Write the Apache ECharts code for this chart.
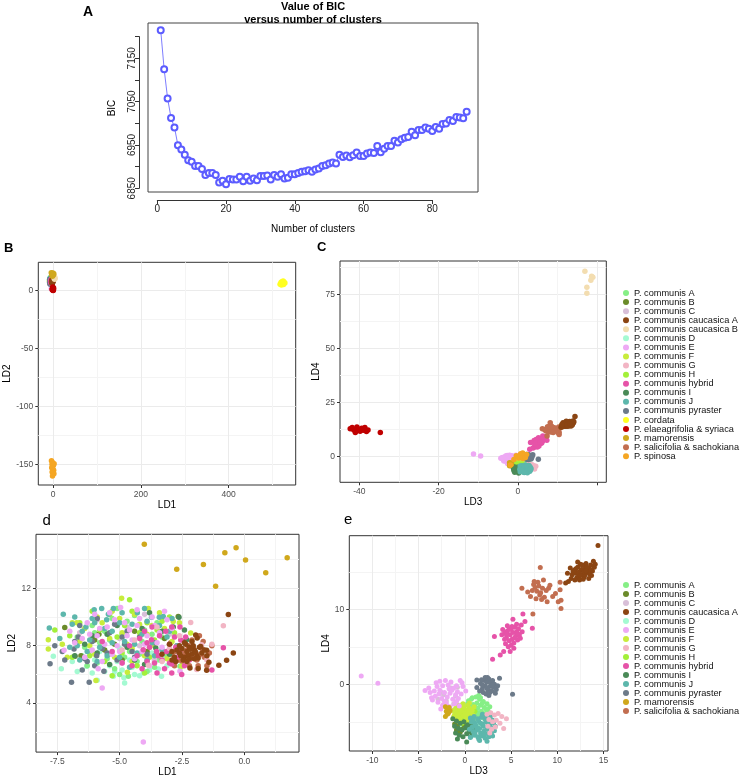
<!DOCTYPE html>
<html><head><meta charset="utf-8">
<script src="https://cdn.jsdelivr.net/npm/echarts@6/dist/echarts.min.js"></script>
<style>html,body{margin:0;padding:0;background:#fff}#c{width:744px;height:778px}</style>
</head><body><div id="c"></div><script>
// ---------- Panel A: BIC vs number of clusters (clusters 1..90) ----------
const bicValues = [7215,7125,7058,7013,6991,6950,6940,6928,6915,6912,
  6902,6902,6895,6881,6886,6886,6881,6864,6868,6860,
  6872,6871,6871,6877,6867,6877,6868,6873,6869,6879,
  6879,6880,6871,6881,6877,6883,6873,6875,6883,6883,
  6886,6889,6890,6892,6889,6894,6896,6902,6904,6908,
  6910,6908,6928,6923,6926,6922,6927,6933,6925,6925,
  6931,6933,6932,6948,6934,6942,6948,6948,6960,6956,
  6964,6967,6969,6981,6973,6985,6985,6991,6988,6983,
  6992,6988,6999,7000,7008,7006,7015,7014,7012,7027];
const bicXTicks = [0,20,40,60,80];

// ---------- Species ----------
const speciesNames = ['P. communis A','P. communis B','P. communis C','P. communis caucasica A','P. communis caucasica B',
  'P. communis D','P. communis E','P. communis F','P. communis G','P. communis H','P. communis hybrid','P. communis I',
  'P. communis J','P. communis pyraster','P. cordata','P. elaeagrifolia & syriaca','P. mamorensis',
  'P. salicifolia & sachokiana','P. spinosa'];
const speciesColors = ['#86ef86','#6b8b2a','#d8bfd8','#8b4513','#f3ddb0','#a4fad2','#eea9f4','#c8ec3c','#f2b5c4',
  '#a3f03a','#e653a8','#4a8a57','#5db7ac','#6c7a89','#ffff22','#c00000','#d0a81c','#c26e50','#f5a623'];
const zoomSpecies = ['P. communis A','P. communis B','P. communis C','P. communis caucasica A','P. communis D',
  'P. communis E','P. communis F','P. communis G','P. communis H','P. communis hybrid','P. communis I',
  'P. communis J','P. communis pyraster','P. mamorensis','P. salicifolia & sachokiana'];

// LD1/LD2 scores
const ld12_A = [[-6.1,9.4],[-5.8,8.2],[-5.5,7.1],[-5.2,6.4],[-4.9,8.8],[-4.6,7.6],[-4.65,5.87],[-4.3,6.9],[-4.0,9.1],[-3.8,7.9],[-3.6,6.5],[-3.3,8.6],[-3.1,7.3],[-2.58,6.57],[-5.9,6.8],[-6.4,7.9],[-5.3,9.9],[-4.4,10.1],[-3.9,6.2],[-4.8,7.2],[-5.6,9.0],[-6.7,8.6],[-3.5,9.6],[-4.1,8.3],[-5.0,6.0],
  [-6.3,6.6],[-5.4,8.4],[-4.2,7.4],[-3.4,7.0],[-5.1,10.6],[-6.0,8.9],[-4.7,9.7],[-3.7,8.8]];
const ld12_B = [[-7.2,9.27],[-6.55,7.3],[-5.83,8.79],[-6.79,7.26],[-2.65,10.03],[-5.2,8.1],[-4.4,9.0],[-3.9,7.6],[-6.0,8.4],[-4.9,7.0],[-3.2,8.5],[-5.6,7.7]];
const ld12_C = [[-6.6,8.9],[-5.4,7.4],[-4.7,9.3],[-4.2,8.0],[-3.6,7.0],[-5.9,9.8],[-4.0,10.2],[-3.0,8.8],[-6.2,7.6],[-5.0,8.5]];
const ld12_caucA = [[-0.64,10.17],[-0.44,7.49],[-0.71,6.98],[-1.02,6.64],[-1.42,6.84],[-1.51,7.68],[-1.89,8.53],[-2.18,6.45],[-1.85,6.41],[-1.51,6.29],[-1.95,8.75],[-2.9,7.0],[-3.3,7.4],[-3.0,8.1],
  [-2.6,7.5],[-2.5,7.8],[-2.4,7.2],[-2.3,7.6],[-2.2,7.9],[-2.1,7.4],[-2.0,7.7],[-1.9,7.3],[-1.8,7.9],[-1.7,7.5],[-2.45,7.0],[-2.35,8.1],[-2.25,7.35],[-2.15,7.75],[-2.05,8.0],[-1.95,7.55],[-1.85,7.15],[-2.55,7.3],[-2.7,7.7],[-2.8,7.2],[-2.3,6.9],[-2.0,7.1],[-1.75,7.95],[-2.4,8.2],[-2.2,7.1],[-1.6,7.7],[-2.6,8.0],[-2.9,7.6],[-1.5,7.3],[-2.1,8.3],[-2.75,6.9]];
const ld12_caucB = [[2.5,10.5],[3.5,9.6],[4.2,11.2],[2.0,11.8],[3.0,12.4],[4.8,10.2]];
const ld12_D = [[-7.66,7.26],[-7.34,6.4],[-6.32,6.57],[-5.25,5.87],[-4.83,5.76],[-3.32,5.87],[-3.45,6.38],[-4.05,6.1],[-5.6,6.2],[-6.0,7.0],[-4.5,6.5],[-3.9,6.9],[-5.1,6.9],[-5.8,7.6],[-4.3,7.3],[-3.7,7.5],[-6.5,7.3],[-4.9,6.3],[-3.1,6.6],[-5.4,6.6],[-4.6,7.0],[-6.9,6.9],[-4.2,5.9],[-3.5,7.0],[-5.0,7.8],
  [-6.7,6.2],[-5.9,5.6],[-5.2,6.2],[-4.4,6.0],[-3.8,6.3],[-6.1,6.1],[-4.8,5.4],[-3.2,7.2]];
const ld12_E = [[-5.7,5.06],[-4.05,1.29],[-4.96,10.66],[-7.23,7.68],[-5.86,6.4],[-2.58,6.22],[-3.1,9.8],[-6.8,8.2],[-6.3,9.6],[-5.9,8.7],[-5.5,9.3],[-5.1,8.0],[-4.8,9.6],[-4.5,8.4],[-4.2,9.9],[-3.9,8.7],[-3.6,9.4],[-3.3,7.9],[-5.3,7.4],[-4.9,6.8],[-4.4,7.1],[-3.8,6.6],[-6.1,7.7],[-5.6,8.1],[-4.6,9.1],[-4.0,8.1],[-3.4,8.9],[-2.9,9.2],[-6.5,8.5],[-5.2,9.8],[-4.7,8.7],[-4.1,7.6],[-5.8,9.2],[-3.7,10.0],[-6.0,10.2],
  [-7.0,9.0],[-6.2,8.8],[-5.4,10.3],[-4.3,10.5],[-3.5,8.2],[-5.0,7.6],[-4.3,9.4],[-3.2,10.4],[-6.4,7.2],[-5.7,6.9]];
const ld12_F = [[-7.86,8.42],[-7.86,7.77],[-4.92,11.3],[-3.85,10.6],[-6.72,9.6],[-5.95,5.57],[-2.85,9.69],[-2.15,8.88],[-4.69,6.15],[-2.51,6.57],[-7.1,7.2],[-6.9,9.6],[-6.2,8.0],[-5.7,9.6],[-5.4,8.5],[-5.0,9.9],[-4.7,8.1],[-4.4,10.2],[-4.2,9.5],[-3.9,8.8],[-3.6,8.0],[-3.2,9.2],[-2.9,8.3],[-5.2,7.2],[-4.5,6.9],[-6.4,9.2],[-3.4,10.3],[-4.0,7.3],[-5.9,10.0],[-4.9,8.9],
  [-7.3,8.1],[-6.6,8.3],[-6.0,7.4],[-5.3,10.4],[-4.5,7.8],[-3.7,9.4],[-3.1,7.1],[-2.6,9.6]];
const ld12_G = [[-2.15,9.62],[-0.84,9.39],[-1.71,8.07],[-3.85,6.64],[-1.91,6.34],[-3.0,7.8],[-2.6,8.7],[-4.4,8.4],[-3.5,9.3],[-2.3,6.9],[-1.5,7.0],[-4.9,7.7],[-2.0,7.3],[-3.3,6.9],[-1.3,8.1]];
const ld12_H = [[-7.6,9.1],[-7.0,8.7],[-6.6,9.6],[-6.2,7.3],[-5.8,9.1],[-5.4,10.2],[-5.1,8.6],[-4.8,9.4],[-4.5,10.4],[-4.2,8.9],[-3.9,9.6],[-3.6,8.4],[-3.3,9.7],[-3.0,10.0],[-4.9,7.5],[-4.3,6.6],[-5.6,6.9],[-6.9,7.2],[-2.8,8.9],[-3.8,7.2],[-5.3,5.9],[-4.0,6.1],[-4.6,11.2],[-6.1,10.4],[-3.5,9.1]];
const ld12_hybrid = [[-2.91,9.3],[-2.58,9.3],[-2.51,6.0],[-2.91,6.1],[-0.84,7.86],[-3.72,8.42],[-3.52,7.6],[-4.05,7.72],[-3.12,7.6],[-2.91,6.73],[-3.3,7.0],[-3.0,8.1],[-2.7,7.2],[-3.6,6.8],[-4.3,7.3],[-3.9,6.9],[-3.4,8.7],[-2.8,8.6],[-4.6,8.0],[-4.9,6.8],[-5.3,7.6],[-3.8,7.9],[-2.4,6.6],[-2.2,7.0],[-3.2,6.4],[-4.2,8.5],[-3.7,9.3],[-3.15,9.0],[-2.6,7.6],[-4.5,6.6],[-5.7,8.3],[-3.5,6.1],[-2.35,8.6],[-4.0,9.0],[-1.3,6.3],
  [-3.0,6.8],[-2.75,7.9],[-3.45,7.3],[-4.1,6.4],[-2.55,8.4],[-3.9,8.2]];
const ld12_I = [[-2.62,9.99],[-2.85,9.3],[-1.91,7.26],[-2.31,8.42],[-3.55,7.84],[-6.4,8.1],[-5.5,8.8],[-4.7,7.9],[-4.1,9.2],[-3.3,9.0],[-5.9,7.5],[-6.8,7.3],[-4.4,7.0],[-3.0,7.4],[-5.1,9.4],[-3.8,10.3],[-2.4,9.1],[-4.0,6.7],[-5.4,6.7],[-6.1,8.7]];
const ld12_J = [[-7.82,9.23],[-7.26,10.2],[-6.02,10.5],[-5.72,10.6],[-5.45,10.2],[-5.25,10.6],[-4.29,10.3],[-3.72,9.99],[-3.41,9.99],[-3.25,10.03],[-6.35,9.3],[-5.52,9.8],[-6.7,8.0],[-6.5,9.0],[-6.2,8.4],[-6.0,9.6],[-5.8,7.9],[-5.6,9.2],[-5.3,8.2],[-5.0,9.6],[-4.8,8.3],[-4.5,9.5],[-4.3,7.5],[-4.1,8.8],[-3.9,9.7],[-3.7,8.2],[-3.4,9.4],[-3.1,8.6],[-2.9,9.9],[-2.7,8.0],[-6.6,7.0],[-5.9,6.9],[-5.0,7.2],[-4.6,6.5],[-3.3,7.7],[-4.9,10.3],[-6.3,7.6],[-3.9,7.0],[-2.6,7.5],[-7.0,7.9],
  [-7.4,8.5],[-6.9,9.5],[-6.1,9.9],[-5.5,7.3],[-4.4,8.1],[-3.6,7.3],[-3.0,9.0],[-5.3,9.0],[-4.0,10.6],[-6.8,10.0]];
const ld12_pyraster = [[-7.79,6.75],[-6.93,5.46],[-6.22,5.46],[-6.66,8.6],[-6.83,7.77],[-5.92,7.3],[-5.63,6.22],[-7.6,8.0],[-6.4,7.1],[-6.1,8.3],[-5.7,7.8],[-5.4,8.9],[-5.1,7.0],[-4.8,8.1],[-4.5,7.6],[-4.2,8.6],[-3.9,7.4],[-7.2,7.0],[-6.6,9.4],[-5.9,9.9],[-5.2,9.5],[-6.0,6.6],[-4.7,9.0],[-3.6,8.2],[-6.3,6.9],
  [-7.3,7.6],[-6.5,6.3],[-5.5,7.5],[-4.9,8.6],[-6.8,8.3],[-4.4,7.2]];
const ld12_cordata = [[517,5.2],[519,6.8],[520,4.6],[521,7.4],[522,5.9],[523,6.5],[524,8.0],[525,5.0],[526,7.1],[528,6.2]];
const ld12_elaeag = [[-1.8,0.5],[-1.2,1.8],[-0.9,0.2],[-0.5,1.2],[-0.2,2.4],[0.1,0.8],[0.4,1.6],[0.7,0.1],[1.0,1.3],[1.3,2.0],[-1.5,1.0],[0.2,-0.3],[-0.6,2.8],[0.9,0.6]];
const ld12_mamor = [[-4.01,15.07],[-2.71,13.32],[-1.64,13.66],[-1.15,12.14],[-0.78,14.47],[-0.33,14.82],[0.05,13.97],[0.86,13.09],[1.72,14.13]];
const ld12_salic = [[-2.9,7.4],[-2.7,8.0],[-2.5,6.9],[-2.3,7.7],[-2.1,8.4],[-1.9,7.0],[-1.7,7.8],[-1.5,6.6],[-1.3,8.0],[-2.8,6.6],[-2.6,7.3],[-2.4,8.3],[-2.2,6.6],[-2.0,7.5],[-1.8,8.7],[-1.6,7.2],[-1.4,7.5],[-2.95,8.2],[-2.45,7.6],[-2.05,7.9],[-1.85,6.6],[-2.65,7.0],[-2.25,8.0],[-1.95,7.2],[-2.35,7.4],[-1.75,7.4],[-2.55,7.8],[-2.15,7.1],[-1.65,8.3],[-2.75,7.6]];
const ld12_spinosa = [[-3.5,-147],[-2.2,-150],[-1.0,-148.5],[0.8,-151],[2.5,-149.5],[-3.0,-153],[-0.5,-154],[1.5,-155],[-2.0,-156.5],[0.2,-157.5],[2.0,-158],[-1.2,-160]];

// LD3/LD4 scores
const ld34_A = [[0.4,-2.2],[0.8,-1.8],[1.2,-1.7],[1.6,-2.0],[2.0,-2.3],[2.4,-2.6],[2.7,-3.0],[0.5,-3.0],[0.9,-2.7],[1.3,-2.5],[1.7,-2.8],[2.1,-3.1],[2.5,-3.5],[0.6,-3.6],[1.0,-3.4],[1.4,-3.2],[1.8,-3.6],[2.2,-3.9],[0.8,-4.2],[1.2,-4.0],[1.6,-4.3],[2.0,-4.5],[0.3,-2.6],[1.5,-1.5],[2.6,-4.1],
  [0.7,-2.0],[1.1,-2.9],[1.9,-2.5],[2.3,-3.3],[1.4,-3.8],[0.9,-3.2],[2.0,-4.0],[1.7,-1.8]];
const ld34_B = [[-1.0,-4.6],[-0.6,-5.0],[-0.2,-4.8],[0.3,-5.2],[-0.8,-5.6],[-0.3,-6.0],[0.2,-5.8],[-1.1,-5.3],[-0.5,-6.4],[0.5,-6.2],[-0.1,-5.4],[-0.9,-6.1]];
const ld34_C = [[-2.6,-1.0],[-2.0,-2.2],[-1.5,-0.5],[-1.0,-1.6],[-0.5,-2.8],[-2.9,-2.0],[-1.8,-3.0],[-0.8,-0.4],[-1.2,-2.6],[-2.3,-1.4]];
const ld34_caucA = [[11.4,15.5],[11.2,13.7],[11.8,15.2],[12.0,14.8],[12.2,15.6],[12.4,15.0],[12.6,14.6],[12.8,15.3],[13.0,15.8],[13.2,14.9],[13.4,15.4],[13.6,15.9],[12.1,14.2],[12.5,16.0],[12.9,14.3],[13.1,16.1],[13.5,14.7],[13.8,15.1],[11.9,13.9],[12.3,14.4],[12.7,15.9],[13.3,15.2],[11.6,14.6],[14.0,15.6],[14.4,18.5],[10.9,13.5],[12.0,15.4],[12.6,15.3],[13.0,14.6],[13.6,15.3],[12.3,14.9],[12.9,15.0],[13.2,15.6],[11.5,14.1],[12.4,13.9],[13.7,14.5],[14.1,16.0],[12.2,16.3],[11.7,15.0],[12.8,14.0],[13.4,14.1],[11.1,14.8],[13.9,16.4],[12.5,14.5],[13.1,15.1]];
const ld34_caucB = [[16.9,85.6],[18.9,82.9],[18.4,81.5],[17.4,78.2],[17.4,75.5],[18.6,83.4]];
const ld34_D = [[0.04,-3.73],[1.0,-5.5],[-0.4,-3.9],[0.3,-4.1],[0.7,-3.8],[1.2,-4.2],[-0.2,-4.6],[0.5,-4.8],[0.9,-4.5],[1.4,-4.9],[-0.5,-5.2],[0.2,-5.4],[0.6,-5.1],[1.1,-5.9],[-0.1,-5.8],[0.4,-6.0],[0.8,-5.7],[1.5,-5.3],[-0.3,-4.2],[0.1,-4.4],[0.55,-4.35],[1.3,-3.6],[-0.45,-5.5],[0.75,-6.1],[0.3,-3.5],
  [0.0,-4.0],[0.6,-4.4],[1.2,-5.0],[-0.3,-5.0],[0.4,-5.6],[0.9,-5.2],[0.2,-3.9],[1.3,-4.6]];
const ld34_E = [[-11.2,1.1],[-9.4,0.13],[-4.3,-0.84],[-3.75,-1.1],[-3.3,-0.9],[-3.0,-0.3],[-2.7,0.4],[-2.4,-0.2],[-2.1,0.5],[-1.8,-0.1],[-1.5,0.3],[-1.2,-0.5],[-0.9,-0.2],[-0.5,0.5],[-0.2,-0.3],[0.1,-0.9],[-3.2,-1.6],[-2.8,-1.3],[-2.5,-1.9],[-2.2,-1.1],[-1.9,-1.7],[-1.6,-1.2],[-1.3,-2.0],[-1.0,-1.4],[-0.7,-1.9],[-0.4,-1.3],[-2.9,-2.4],[-2.4,-2.8],[-2.0,-2.5],[-1.6,-3.0],[-1.1,-2.6],[-0.6,-2.9],[-3.5,-2.1],[-2.6,-3.3],[-1.4,-0.8],
  [-3.9,-0.5],[-3.6,-1.8],[-3.1,0.2],[-2.2,-2.3],[-1.7,-0.6],[-0.8,-1.0],[-0.3,0.2],[-2.7,-0.8],[-1.9,-2.9],[-0.9,-2.3]];
const ld34_F = [[-1.0,-3.2],[-0.7,-3.0],[-0.4,-3.3],[-0.1,-3.1],[0.2,-3.4],[0.5,-3.2],[0.8,-3.5],[-0.9,-3.7],[-0.6,-3.9],[-0.3,-3.6],[0.0,-3.8],[0.3,-4.0],[0.6,-3.7],[0.9,-4.1],[-0.8,-4.3],[-0.5,-4.5],[-0.2,-4.2],[0.1,-4.4],[0.4,-4.6],[0.7,-4.3],[-1.1,-4.0],[-0.7,-4.8],[-0.3,-5.0],[0.2,-4.9],[0.6,-5.0],[-0.9,-2.7],[-0.2,-2.6],[0.5,-2.5],[1.0,-3.0],[-1.3,-3.5],
  [-0.5,-3.4],[0.0,-4.1],[0.4,-3.5],[-0.8,-4.6],[0.7,-4.8],[-0.4,-2.9],[0.3,-2.8],[-1.2,-4.3]];
const ld34_G = [[2.4,-4.0],[2.8,-3.8],[3.2,-4.1],[3.6,-3.9],[4.0,-4.3],[4.5,-4.6],[2.6,-4.7],[3.0,-5.0],[3.4,-4.8],[3.8,-5.2],[2.5,-5.6],[2.9,-6.0],[3.3,-5.7],[2.7,-6.5],[4.2,-5.9]];
const ld34_H = [[-0.6,-3.4],[-0.3,-3.7],[0.0,-3.5],[0.3,-3.8],[0.6,-3.6],[0.9,-3.9],[-0.5,-4.1],[-0.2,-4.3],[0.1,-4.0],[0.4,-4.2],[0.7,-4.5],[1.0,-4.3],[-0.4,-4.7],[-0.1,-4.9],[0.2,-4.6],[0.5,-4.8],[0.8,-5.0],[-0.7,-4.4],[0.3,-5.1],[-0.3,-5.2],[1.1,-3.6],[0.6,-4.1],[-0.1,-3.9],[0.9,-4.7],[-0.8,-3.8]];
const ld34_hybrid = [[3.0,3.33],[3.2,6.36],[3.83,3.9],[4.2,4.36],[4.9,4.36],[5.2,8.67],[6.28,9.38],[6.5,8.36],[7.3,7.47],[6.0,6.13],[4.3,6.8],[4.5,6.2],[4.6,7.1],[4.8,5.8],[4.9,6.6],[5.0,7.3],[5.1,6.0],[5.2,6.9],[5.3,5.5],[5.4,7.6],[5.5,6.4],[5.6,7.0],[5.7,5.9],[5.8,7.4],[4.4,5.4],[4.1,7.3],[5.9,6.6],[4.7,5.0],[5.0,5.2],[6.2,7.0],[5.6,8.0],[4.0,6.6],[6.1,7.9],[4.6,7.8],[5.3,4.8],
  [4.5,6.7],[5.1,7.7],[5.4,6.2],[4.8,7.4],[5.7,6.8],[4.3,6.0]];
const ld34_I = [[-1.3,-4.6],[-0.9,-4.9],[-0.5,-5.2],[-0.1,-5.0],[0.3,-5.4],[0.7,-5.6],[-1.1,-5.6],[-0.7,-5.9],[-0.3,-6.1],[0.1,-5.8],[0.5,-6.3],[0.9,-6.0],[-1.0,-6.5],[-0.6,-6.8],[-0.2,-7.0],[0.2,-6.6],[0.6,-7.0],[0.2,-7.7],[-0.8,-7.3],[0.8,-6.7]];
const ld34_J = [[0.6,-4.5],[1.0,-4.3],[1.4,-4.6],[1.8,-4.4],[2.2,-4.7],[2.6,-4.5],[3.0,-4.8],[0.7,-5.0],[1.1,-5.2],[1.5,-4.9],[1.9,-5.3],[2.3,-5.0],[2.7,-5.4],[3.1,-5.2],[0.8,-5.7],[1.2,-5.5],[1.6,-5.9],[2.0,-5.6],[2.4,-6.0],[2.8,-5.8],[3.2,-6.2],[0.9,-6.3],[1.3,-6.1],[1.7,-6.5],[2.1,-6.2],[2.5,-6.6],[2.9,-6.4],[1.0,-6.8],[1.4,-7.0],[1.8,-6.9],[2.2,-7.2],[2.6,-7.0],[1.6,-7.5],[2.4,-7.6],[0.5,-6.0],[3.3,-5.6],[1.9,-4.0],[2.8,-4.2],[0.6,-7.1],[3.0,-6.9],
  [0.9,-4.8],[1.3,-5.8],[1.7,-5.2],[2.1,-6.7],[2.5,-5.3],[2.9,-5.1],[1.1,-6.5],[2.3,-4.3],[3.1,-6.0],[1.5,-7.3]];
const ld34_pyraster = [[1.3,0.58],[1.3,-0.44],[3.75,0.8],[5.16,-1.33],[1.7,0.1],[1.9,-0.6],[2.1,0.5],[2.2,-0.2],[2.4,0.3],[2.5,-0.8],[2.6,0.7],[2.7,-0.3],[2.8,0.2],[2.9,-0.9],[3.0,0.5],[3.1,-0.4],[3.2,0.0],[3.4,-0.7],[2.0,-1.1],[2.3,-1.3],[2.6,-1.5],[3.3,-1.2],[1.6,-0.9],[2.45,0.9],[3.55,-0.2],
  [1.8,0.6],[2.2,0.9],[2.7,-1.1],[3.0,-0.1],[2.4,-0.5],[1.9,-0.1]];
const ld34_cordata = [[0.6,-2.4],[0.9,-3.0],[1.2,-2.6],[1.5,-3.3],[1.8,-2.9],[1.1,-3.6],[0.7,-3.9],[1.4,-4.1],[1.9,-3.8],[1.0,-2.2]];
const ld34_elaeag = [[-42.3,12.8],[-41.8,13.3],[-41.4,12.2],[-41.0,11.1],[-40.6,13.6],[-40.2,12.5],[-39.8,11.6],[-39.4,13.0],[-39.0,12.1],[-38.6,13.4],[-38.2,11.5],[-37.8,12.2],[-40.8,11.8],[-34.7,11.0]];
const ld34_mamor = [[-2.1,-3.0],[-1.9,-3.3],[-1.7,-3.1],[-2.0,-3.6],[-1.8,-3.9],[-2.1,-4.3],[-1.6,-3.5],[-1.9,-4.0],[-1.7,-3.7]];
const ld34_salic = [[8.16,15.56],[6.17,12.8],[7.44,13.3],[7.8,12.4],[9.06,12.8],[9.5,11.7],[10.3,12.6],[10.4,11.2],[10.4,10.1],[10.3,13.6],[10.1,11.0],[7.36,9.38],[8.1,11.9],[7.1,11.7],[7.6,12.9],[7.9,13.6],[8.2,12.2],[8.4,12.8],[8.6,11.6],[8.8,12.5],[7.3,12.5],[7.7,11.4],[8.0,13.1],[8.3,11.3],[9.2,13.2],[8.5,13.9],[7.5,13.7],[9.8,12.1],[6.8,12.3],[8.9,11.0]];
const ld34_spinosa = [[-1.9,-4.0],[-1.0,-1.5],[-0.4,0.3],[0.2,-0.8],[0.7,1.2],[1.0,-0.2],[1.3,-1.0],[1.6,0.6],[1.9,-0.5],[2.2,0.9],[0.5,0.0],[1.2,1.5]];

// tick values of the ggplot panels
const bXMajor = [0,200,400], bXMinor = [100,300,500], bYMajor = [-150,-100,-50,0], bYMinor = [-125,-75,-25];
const cXMajor = [-40,-20,0,20], cXMinor = [-30,-10,10], cYMajor = [0,25,50,75], cYMinor = [12.5,37.5,62.5,87.5];
const dXMajor = [-7.5,-5,-2.5,0], dXMinor = [-6.25,-3.75,-1.25,1.25], dYMajor = [4,8,12], dYMinor = [2,6,10,14];
const eXMajor = [-10,-5,0,5,10,15], eXMinor = [-7.5,-2.5,2.5,7.5,12.5], eYMajor = [0,10], eYMinor = [-5,5,15];

// ---------- build ----------
const ld12 = [ld12_A,ld12_B,ld12_C,ld12_caucA,ld12_caucB,ld12_D,ld12_E,ld12_F,ld12_G,ld12_H,ld12_hybrid,ld12_I,ld12_J,ld12_pyraster,ld12_cordata,ld12_elaeag,ld12_mamor,ld12_salic,ld12_spinosa];
const ld34 = [ld34_A,ld34_B,ld34_C,ld34_caucA,ld34_caucB,ld34_D,ld34_E,ld34_F,ld34_G,ld34_H,ld34_hybrid,ld34_I,ld34_J,ld34_pyraster,ld34_cordata,ld34_elaeag,ld34_mamor,ld34_salic,ld34_spinosa];
const FONT = '"Liberation Sans", Arial, sans-serif';

function scat(idx, data, axis, size) {
  return {type:'scatter', name:speciesNames[idx], xAxisIndex:axis, yAxisIndex:axis, data:data,
    symbol:'circle', symbolSize:size, itemStyle:{color:speciesColors[idx], opacity:1},
    silent:true, animation:false};
}
function majorAxis(grid, min, max, ticks, fmt, name, gap, pos) {
  return {type:'value', gridIndex:grid, min:min, max:max, position:pos,
    axisLine:{show:false, onZero:false},
    axisTick:{show:true, length:3, customValues:ticks, lineStyle:{color:'#333', width:1}},
    axisLabel:{customValues:ticks, fontSize:8.5, color:'#4d4d4d', margin:5, formatter:fmt, fontFamily:FONT},
    splitLine:{show:true, lineStyle:{color:'#ebebeb', width:1}},
    name:name, nameLocation:'middle', nameGap:gap, nameTextStyle:{fontSize:10, color:'#000', fontFamily:FONT}};
}
function minorAxis(grid, min, max, ticks, pos) {
  return {type:'value', gridIndex:grid, min:min, max:max, position:pos,
    axisLine:{show:false, onZero:false}, axisTick:{show:false, customValues:ticks},
    axisLabel:{show:false, customValues:ticks},
    splitLine:{show:true, lineStyle:{color:'#f4f4f4', width:1}}};
}
const intFmt = v => String(v);
const oneDec = v => v.toFixed(1);

const grids = [
  {left:148, top:23, width:330, height:169, show:true, borderColor:'#444', borderWidth:1, backgroundColor:'transparent'},
  {left:157.3, top:199, width:275, height:1},
  {left:139, top:36.6, width:1, height:151.7},
  {left:38.3, top:262.3, width:257.4, height:222.7, show:true, borderColor:'#333', borderWidth:1},
  {left:340, top:261, width:266.3, height:221.3, show:true, borderColor:'#333', borderWidth:1},
  {left:36, top:534.3, width:263, height:218, show:true, borderColor:'#333', borderWidth:1},
  {left:349.3, top:535.7, width:258.7, height:215.3, show:true, borderColor:'#333', borderWidth:1}
];
const hiddenAx = g => ({type:'value', gridIndex:g, show:false, min:0, max:1});
const xAxes = [
  {type:'value', gridIndex:0, min:-2.7, max:93.3, show:false},
  {type:'value', gridIndex:1, min:0, max:80, interval:20, position:'bottom',
    axisLine:{show:true, onZero:false, lineStyle:{color:'#333', width:1}}, axisTick:{show:true, length:4, lineStyle:{color:'#333'}},
    axisLabel:{fontSize:10, color:'#222', margin:4, fontFamily:FONT, customValues:bicXTicks}, splitLine:{show:false}},
  hiddenAx(2),
  majorAxis(3, -33.5, 552.6, bXMajor, intFmt, 'LD1', 14, 'bottom'),
  minorAxis(3, -33.5, 552.6, bXMinor, 'top'),
  majorAxis(4, -44.87, 22.3, cXMajor, v => v === 20 ? '' : String(v), 'LD3', 14, 'bottom'),
  minorAxis(4, -44.87, 22.3, cXMinor, 'top'),
  majorAxis(5, -8.354, 2.194, dXMajor, oneDec, 'LD1', 14, 'bottom'),
  minorAxis(5, -8.354, 2.194, dXMinor, 'top'),
  majorAxis(6, -12.49, 15.48, eXMajor, intFmt, 'LD3', 10, 'bottom'),
  minorAxis(6, -12.49, 15.48, eXMinor, 'top')
];
const yAxes = [
  {type:'value', gridIndex:0, min:6842, max:7232, show:false},
  hiddenAx(1),
  {type:'value', gridIndex:2, min:6850, max:7200, interval:50, position:'left',
    axisLine:{show:true, onZero:false, lineStyle:{color:'#333', width:1}}, axisTick:{show:true, length:4, lineStyle:{color:'#333'}},
    axisLabel:{fontSize:10, color:'#222', margin:2, rotate:90, fontFamily:FONT,
      formatter: v => ((v - 6850) % 100 === 0 && v < 7200) ? String(v) : ''}, splitLine:{show:false}},
  majorAxis(3, -167.8, 24.1, bYMajor, intFmt, 'LD2', 23, 'left'),
  minorAxis(3, -167.8, 24.1, bYMinor, 'right'),
  majorAxis(4, -12.0, 90.4, cYMajor, intFmt, 'LD4', 12, 'left'),
  minorAxis(4, -12.0, 90.4, cYMinor, 'right'),
  majorAxis(5, 0.59, 15.76, dYMajor, intFmt, 'LD2', 14, 'left'),
  minorAxis(5, 0.59, 15.76, dYMinor, 'right'),
  majorAxis(6, -8.89, 19.81, eYMajor, intFmt, 'LD4', 10, 'left'),
  minorAxis(6, -8.89, 19.81, eYMinor, 'right')
];

const series = [];
series.push({type:'line', name:'BIC', xAxisIndex:0, yAxisIndex:0,
  data: bicValues.map((v, i) => [i + 1, v]),
  symbol:'emptyCircle', symbolSize:6, showSymbol:true,
  lineStyle:{color:'#5c5cff', width:0.8}, itemStyle:{color:'#5c5cff', borderWidth:0.8},
  silent:true, animation:false});

// draw order for each panel
const orderBC = [14,0,1,2,5,6,7,8,9,11,12,13,10,17,3,4,15,16,18];
orderBC.forEach(i => series.push(scat(i, ld12[i], 3, 5.5)));
orderBC.forEach(i => series.push(scat(i, ld34[i], 5, 5.5)));
const orderDE = [17,5,0,1,2,9,7,11,13,12,6,10,8,3,16];
orderDE.forEach(i => series.push(scat(i, ld12[i], 7, 5.5)));
orderDE.forEach(i => series.push(scat(i, ld34[i], 9, 5)));

const legendText = {fontSize:9.2, color:'#111', fontFamily:FONT};
const option = {
  animation:false,
  textStyle:{fontFamily:FONT},
  grid:grids, xAxis:xAxes, yAxis:yAxes, series:series,
  legend:[
    {data:speciesNames, orient:'vertical', left:623, top:288.5, icon:'circle', itemWidth:6, itemHeight:6,
     itemGap:0.07, padding:0, selectedMode:false, textStyle:Object.assign({lineHeight:9}, legendText)},
    {data:zoomSpecies, orient:'vertical', left:623, top:580.6, icon:'circle', itemWidth:6, itemHeight:6,
     itemGap:0, padding:0, selectedMode:false, textStyle:Object.assign({lineHeight:8.7}, legendText)}
  ],
  graphic:[
    {type:'text', x:313, y:7, style:{text:'Value of BIC', align:'center', verticalAlign:'middle', fontSize:11, fontWeight:'bold', fill:'#000', fontFamily:FONT}},
    {type:'text', x:313, y:20, style:{text:'versus number of clusters', align:'center', verticalAlign:'middle', fontSize:11, fontWeight:'bold', fill:'#000', fontFamily:FONT}},
    {type:'text', x:313, y:229, style:{text:'Number of clusters', align:'center', verticalAlign:'middle', fontSize:10, fill:'#000', fontFamily:FONT}},
    {type:'text', x:112, y:108, rotation:Math.PI/2, style:{text:'BIC', align:'center', verticalAlign:'middle', fontSize:10, fill:'#000', fontFamily:FONT}},
    {type:'text', x:83, y:12, style:{text:'A', align:'left', verticalAlign:'middle', fontSize:14, fontWeight:'bold', fill:'#000', fontFamily:FONT}},
    {type:'text', x:4, y:248, style:{text:'B', align:'left', verticalAlign:'middle', fontSize:13, fontWeight:'bold', fill:'#000', fontFamily:FONT}},
    {type:'text', x:317, y:247, style:{text:'C', align:'left', verticalAlign:'middle', fontSize:13, fontWeight:'bold', fill:'#000', fontFamily:FONT}},
    {type:'text', x:42.5, y:521, style:{text:'d', align:'left', verticalAlign:'middle', fontSize:15, fill:'#000', fontFamily:FONT}},
    {type:'text', x:344, y:520, style:{text:'e', align:'left', verticalAlign:'middle', fontSize:15, fill:'#000', fontFamily:FONT}}
  ]
};
const chart = echarts.init(document.getElementById('c'), null, {renderer:'canvas'});
chart.setOption(option);
</script></body></html>
